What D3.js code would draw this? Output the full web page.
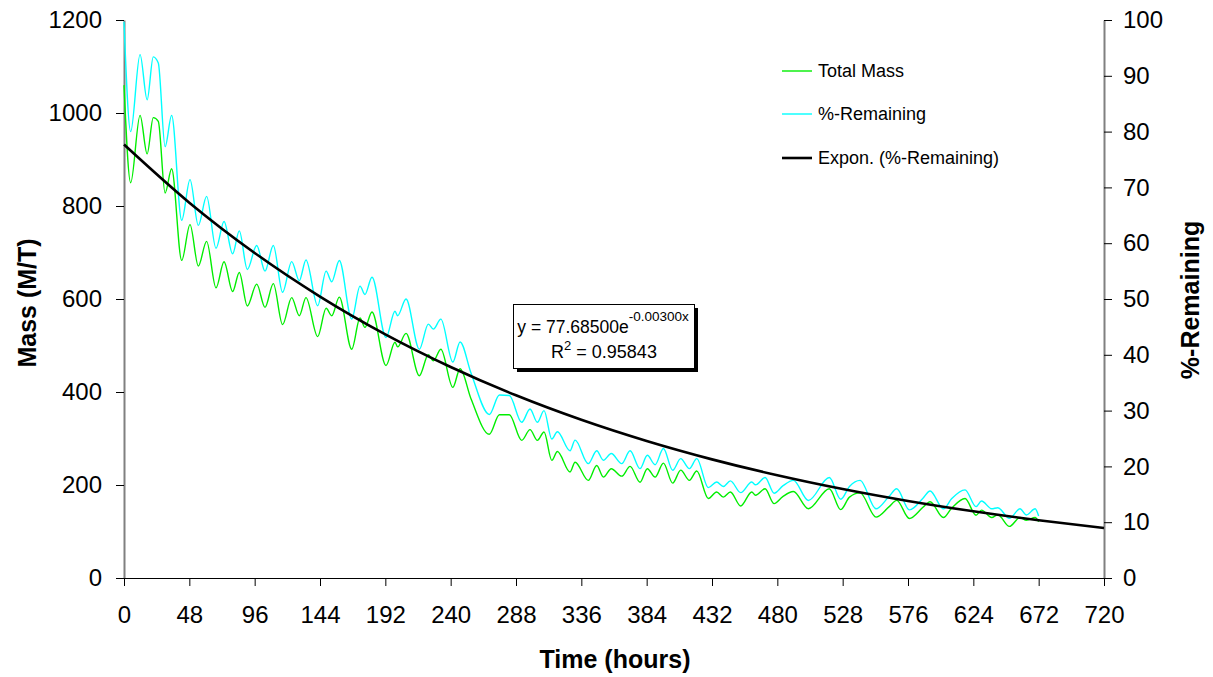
<!DOCTYPE html>
<html>
<head>
<meta charset="utf-8">
<script src="https://cdn.jsdelivr.net/npm/d3@7"></script>
<style>
  html, body { margin: 0; padding: 0; background: #fff; }
  svg { display: block; font-family: "Liberation Sans", Arial, sans-serif; }
</style>
</head>
<body>
<svg id="chart" width="1213" height="677"></svg>
<script>
// ---- Data ----
const timeHours = [0, 4.9, 11.8, 17, 21.5, 25.2, 30.2, 35, 42.4, 48.5, 54.6, 60.7, 67.6, 73.5, 79.8, 84.7, 90.6, 97.5, 103.6, 109.7,
  116.5, 123.2, 128.8, 133.7, 142.3, 148.5, 152.6, 158.2, 167.3, 173.4, 177, 182.2, 192.5, 199.1, 201, 207.2, 217, 223.6, 227.3, 232.8,
  241.6, 246.9, 255, 268.4, 275.8, 283.1, 292.2, 298.3, 303.7, 308.6, 314.3, 318.4, 327.7, 331.4, 341.1, 347.3, 352.2, 358, 365.7, 371.8,
  379.1, 384.5, 390.2, 396.3, 403.1, 409, 415.4, 420.8, 429.3, 435.4, 440.3, 445.5, 453.1, 461.2, 464, 471, 477.6, 484, 491.8, 502.8,
  518.2, 526.6, 533, 540.8, 552.5, 562, 567.7, 577, 587, 592.2, 602, 608, 617.9, 626, 630, 637.5, 642, 650.5, 658.3, 663, 669.4, 672];

const totalMass = [1060, 850, 995, 912, 990, 982, 828, 880, 683, 760, 671, 724, 624, 680, 616, 657, 585, 632, 582, 633,
  545, 603, 564, 603, 519, 580, 564, 604, 492, 559, 539, 572, 457, 507, 497, 526, 435, 480, 467, 492,
  410, 450, 385, 309, 351, 351, 296, 319, 296, 314, 253, 272, 228, 249, 210, 242, 217, 235, 219, 240,
  206, 235, 217, 247, 204, 232, 210, 230, 171, 185, 174, 185, 155, 185, 178, 192, 160, 175, 186, 149,
  192, 147, 174, 183, 131, 153, 167, 128, 152, 164, 130, 150, 171, 135, 146, 130, 136, 111, 130, 124, 130, 121];

const pctRemaining = [99.7, 80.0, 93.8, 85.7, 93.4, 92.3, 77.3, 82.9, 64.1, 71.4, 63.2, 68.4, 59.1, 63.9, 58.1, 62.2, 55.3, 59.6, 55.0, 59.6,
  51.2, 56.7, 53.3, 57.0, 48.8, 55.0, 53.1, 56.9, 46.4, 52.3, 50.8, 53.9, 43.1, 47.8, 47.0, 50.0, 41.0, 45.5, 44.6, 46.4,
  38.7, 42.3, 36.7, 29.3, 32.8, 32.7, 27.9, 30.3, 27.9, 30.0, 24.9, 26.2, 22.8, 24.7, 20.5, 22.8, 21.1, 22.3, 20.5, 22.8,
  19.6, 22.0, 20.3, 23.2, 19.3, 21.4, 19.6, 21.4, 16.2, 17.2, 16.4, 17.4, 15.3, 17.2, 16.7, 18.0, 15.2, 16.5, 17.5, 13.9,
  18.0, 14.1, 16.4, 17.5, 12.4, 14.6, 16.0, 12.2, 14.3, 15.6, 12.4, 14.2, 15.8, 12.8, 13.8, 12.4, 12.6, 10.7, 12.4, 11.3, 12.4, 11.1];

// Exponential trendline (%-Remaining) values at the x ticks
const trendTimes = [0, 48, 96, 144, 192, 240, 288, 336, 384, 432, 480, 528, 576, 624, 672, 720];
const trendValues = [77.69, 67.27, 58.25, 50.44, 43.67, 37.82, 32.74, 28.35, 24.55, 21.26, 18.41, 15.94, 13.80, 11.95, 10.35, 8.96];

const xTicks = [0, 48, 96, 144, 192, 240, 288, 336, 384, 432, 480, 528, 576, 624, 672, 720];
const leftTicks = [0, 200, 400, 600, 800, 1000, 1200];
const rightTicks = [0, 10, 20, 30, 40, 50, 60, 70, 80, 90, 100];

const legendLabels = ["Total Mass", "%-Remaining", "Expon. (%-Remaining)"];
const eqMain = "y = 77.68500e";
const eqExp = "-0.00300x";
const r2Value = "0.95843";

// ---- Layout ----
const svg = d3.select("#chart");
const x0 = 124, x1 = 1104, yTop = 20, yBot = 578;

const x = d3.scaleLinear().domain([0, 720]).range([x0, x1]);
const yL = d3.scaleLinear().domain([0, 1200]).range([yBot, yTop]);
const yR = d3.scaleLinear().domain([0, 100]).range([yBot, yTop]);

const GREEN = "#00ee00", CYAN = "#00ffff";
const fmt = d3.format("d");

// Axes
const gL = svg.append("g").attr("transform", `translate(${x0},0)`)
  .call(d3.axisLeft(yL).tickValues(leftTicks).tickFormat(fmt).tickSize(8).tickSizeOuter(0).tickPadding(14));
const gR = svg.append("g").attr("transform", `translate(${x1},0)`)
  .call(d3.axisRight(yR).tickValues(rightTicks).tickFormat(fmt).tickSize(8).tickSizeOuter(0).tickPadding(11));
const gB = svg.append("g").attr("transform", `translate(0,${yBot})`)
  .call(d3.axisBottom(x).tickValues(xTicks).tickFormat(fmt).tickSize(8).tickSizeOuter(0).tickPadding(20));

[gL, gR, gB].forEach(g => {
  g.selectAll("text").attr("font-size", 24).attr("fill", "#000")
    .attr("font-family", "'Liberation Sans', Arial, sans-serif");
  g.selectAll(".tick line").attr("stroke", "#000");
});
gL.select(".domain").attr("stroke", "#808080").attr("stroke-width", 2);
gR.select(".domain").attr("stroke", "#808080").attr("stroke-width", 2);
gB.select(".domain").attr("stroke", "#000").attr("stroke-width", 1);

// Lines
const massLine = d3.line().x((d, i) => x(timeHours[i])).y(d => yL(d)).curve(d3.curveMonotoneX);
const pctLine = d3.line().x((d, i) => x(timeHours[i])).y(d => yR(d)).curve(d3.curveMonotoneX);
const trendLine = d3.line().x((d, i) => x(trendTimes[i])).y(d => yR(d)).curve(d3.curveMonotoneX);

svg.append("path").datum(pctRemaining).attr("d", pctLine)
  .attr("fill", "none").attr("stroke", CYAN).attr("stroke-width", 1.4);
svg.append("path").datum(totalMass).attr("d", massLine)
  .attr("fill", "none").attr("stroke", GREEN).attr("stroke-width", 1.4);
svg.append("path").datum(trendValues).attr("d", trendLine)
  .attr("fill", "none").attr("stroke", "#000").attr("stroke-width", 2.6);

// Axis titles
svg.append("text").attr("x", 615).attr("y", 668).attr("text-anchor", "middle")
  .attr("font-size", 25).attr("font-weight", "bold").text("Time (hours)");
svg.append("text").attr("transform", "translate(36,303) rotate(-90)").attr("text-anchor", "middle")
  .attr("font-size", 25).attr("font-weight", "bold").text("Mass (M/T)");
svg.append("text").attr("transform", "translate(1199,300) rotate(-90)").attr("text-anchor", "middle")
  .attr("font-size", 25).attr("font-weight", "bold").text("%-Remaining");

// Legend
const legColors = [GREEN, CYAN, "#000"];
const legWidths = [1.4, 1.4, 2.6];
const legY = [71, 114, 158];
legendLabels.forEach((lab, i) => {
  svg.append("line").attr("x1", 782).attr("x2", 812).attr("y1", legY[i]).attr("y2", legY[i])
    .attr("stroke", legColors[i]).attr("stroke-width", legWidths[i]);
  svg.append("text").attr("x", 818).attr("y", legY[i]).attr("dy", "0.35em")
    .attr("font-size", 18).text(lab);
});

// Equation box
svg.append("rect").attr("x", 517).attr("y", 308).attr("width", 181).attr("height", 64).attr("fill", "#000");
svg.append("rect").attr("x", 513.5).attr("y", 304.5).attr("width", 181).attr("height", 64)
  .attr("fill", "#fff").attr("stroke", "#000").attr("stroke-width", 1);
const t1 = svg.append("text").attr("x", 603).attr("y", 333).attr("text-anchor", "middle").attr("font-size", 17.5);
t1.append("tspan").text(eqMain);
t1.append("tspan").attr("font-size", 13.5).attr("dy", -12).text(eqExp);
const t2 = svg.append("text").attr("x", 604).attr("y", 358).attr("text-anchor", "middle").attr("font-size", 18);
t2.append("tspan").text("R");
t2.append("tspan").attr("font-size", 13).attr("dy", -8).text("2");
t2.append("tspan").attr("dy", 8).text(" = " + r2Value);
</script>
</body>
</html>
